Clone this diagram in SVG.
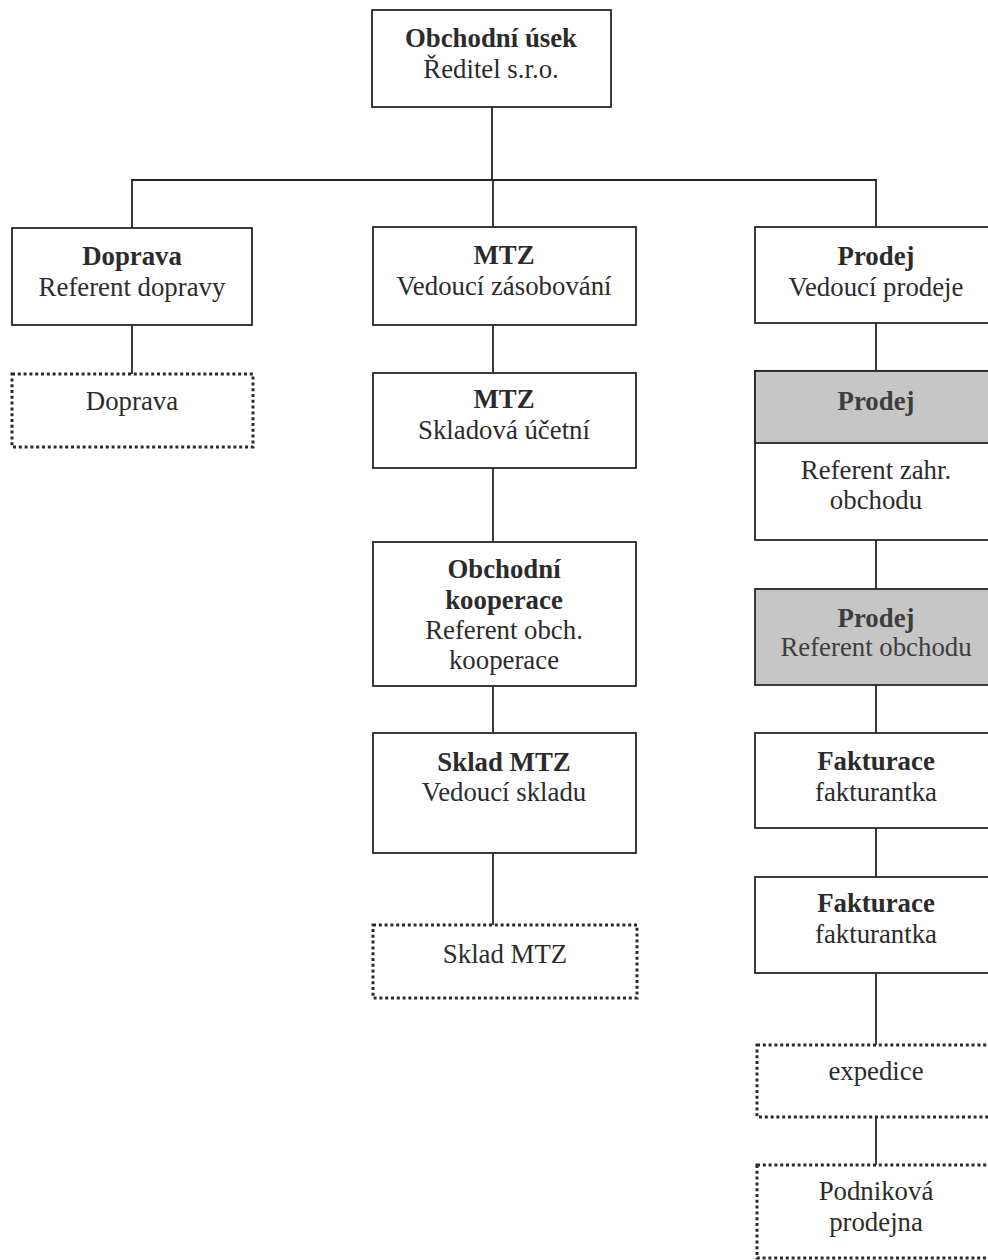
<svg xmlns="http://www.w3.org/2000/svg" width="988" height="1260" viewBox="0 0 988 1260">
  <style>
    .box { fill: #ffffff; stroke: #262626; stroke-width: 1.8; }
    .shade { fill: #c6c6c6; stroke: #262626; stroke-width: 1.8; }
    .dot { fill: #ffffff; stroke: #2a2a2a; stroke-width: 3; stroke-dasharray: 3 2.8; }
    .wire { fill: none; stroke: #262626; stroke-width: 1.8; }
    text { font-family: "Liberation Serif", "Times New Roman", serif; font-size: 26.8px; fill: #2b2b2b; text-anchor: middle; }
    .b { font-weight: bold; }
    .dim { fill: #3d3d3d; }
  </style>
  <rect width="988" height="1260" fill="#ffffff"/>

  <!-- connectors -->
  <g id="connectors" class="wire">
    <path d="M492 107 V180"/>
    <path d="M132 228 V180 H876 V228"/>
    <path d="M493 180 V228"/>
    <path d="M132 325 V374"/>
    <path d="M493 325 V373"/>
    <path d="M493 468 V542"/>
    <path d="M493 686 V733"/>
    <path d="M493 853 V925"/>
    <path d="M876 323 V371"/>
    <path d="M876 540 V589"/>
    <path d="M876 685 V733"/>
    <path d="M876 828 V877"/>
    <path d="M876 973 V1045"/>
    <path d="M876 1117 V1165"/>
  </g>

  <!-- top -->
  <g id="obchodni-usek">
    <rect class="box" x="372" y="10" width="239" height="97"/>
    <text class="b" x="491" y="47">Obchodní úsek</text>
    <text x="491" y="78">Ředitel s.r.o.</text>
  </g>

  <!-- left column -->
  <g id="doprava-ref">
    <rect class="box" x="12" y="228" width="240" height="97"/>
    <text class="b" x="132" y="265">Doprava</text>
    <text x="132" y="296">Referent dopravy</text>
  </g>
  <g id="doprava">
    <rect class="dot" x="12" y="374" width="241" height="73"/>
    <text x="132" y="410">Doprava</text>
  </g>

  <!-- middle column -->
  <g id="mtz-vedouci">
    <rect class="box" x="373" y="227" width="263" height="98"/>
    <text class="b" x="504" y="264">MTZ</text>
    <text x="504" y="295">Vedoucí zásobování</text>
  </g>
  <g id="mtz-ucetni">
    <rect class="box" x="373" y="373" width="263" height="95"/>
    <text class="b" x="504" y="408">MTZ</text>
    <text x="504" y="439">Skladová účetní</text>
  </g>
  <g id="obchodni-kooperace">
    <rect class="box" x="373" y="542" width="263" height="144"/>
    <text class="b" x="504" y="578">Obchodní</text>
    <text class="b" x="504" y="609">kooperace</text>
    <text x="504" y="639">Referent obch.</text>
    <text x="504" y="669">kooperace</text>
  </g>
  <g id="sklad-mtz-vedouci">
    <rect class="box" x="373" y="733" width="263" height="120"/>
    <text class="b" x="504" y="771">Sklad MTZ</text>
    <text x="504" y="801">Vedoucí skladu</text>
  </g>
  <g id="sklad-mtz">
    <rect class="dot" x="373" y="925" width="264" height="73"/>
    <text x="505" y="963">Sklad MTZ</text>
  </g>

  <!-- right column -->
  <g id="prodej-vedouci">
    <rect class="box" x="755" y="227" width="244" height="96"/>
    <text class="b" x="876" y="265">Prodej</text>
    <text x="876" y="296">Vedoucí prodeje</text>
  </g>
  <g id="prodej-zahr">
    <rect class="box" x="755" y="371" width="244" height="169"/>
    <rect class="shade" x="755" y="371" width="244" height="72"/>
    <text class="b dim" x="876" y="410">Prodej</text>
    <text x="876" y="479">Referent zahr.</text>
    <text x="876" y="509">obchodu</text>
  </g>
  <g id="prodej-obchod">
    <rect class="shade" x="755" y="589" width="244" height="96"/>
    <text class="b dim" x="876" y="627">Prodej</text>
    <text class="dim" x="876" y="656">Referent obchodu</text>
  </g>
  <g id="fakturace-1">
    <rect class="box" x="755" y="733" width="244" height="95"/>
    <text class="b" x="876" y="770">Fakturace</text>
    <text x="876" y="801">fakturantka</text>
  </g>
  <g id="fakturace-2">
    <rect class="box" x="755" y="877" width="244" height="96"/>
    <text class="b" x="876" y="912">Fakturace</text>
    <text x="876" y="943">fakturantka</text>
  </g>
  <g id="expedice">
    <rect class="dot" x="757" y="1045" width="242" height="72"/>
    <text x="876" y="1080">expedice</text>
  </g>
  <g id="podnikova-prodejna">
    <rect class="dot" x="757" y="1165" width="242" height="93"/>
    <text x="876" y="1200">Podniková</text>
    <text x="876" y="1231">prodejna</text>
  </g>
</svg>
